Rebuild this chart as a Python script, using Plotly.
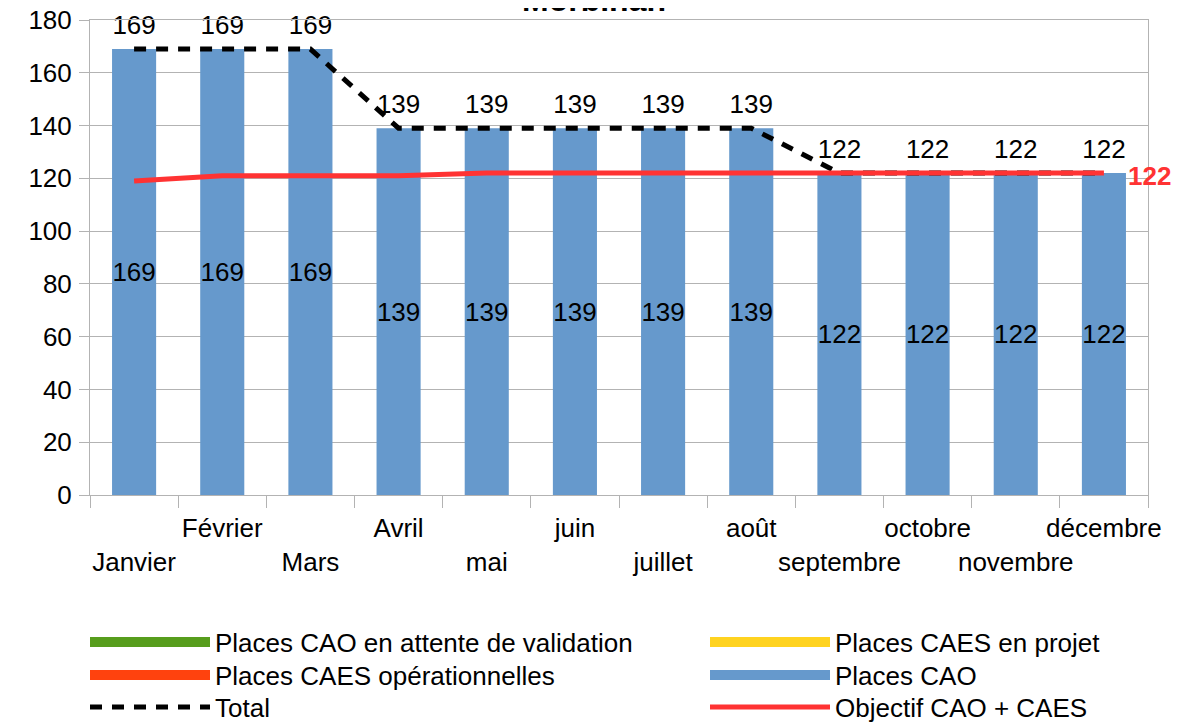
import plotly.graph_objects as go

months = ["Janvier", "Février", "Mars", "Avril", "mai", "juin", "juillet",
          "août", "septembre", "octobre", "novembre", "décembre"]
places_cao = [169, 169, 169, 139, 139, 139, 139, 139, 122, 122, 122, 122]
total = [169, 169, 169, 139, 139, 139, 139, 139, 122, 122, 122, 122]
objectif = [119, 121, 121, 121, 122, 122, 122, 122, 122, 122, 122, 122]
y_ticks = [0, 20, 40, 60, 80, 100, 120, 140, 160, 180]

# staggered month labels (every other one on a second row)
cats = [("<br>" if i % 2 == 0 else "") + m for i, m in enumerate(months)]

FONT = "Liberation Sans"
FS = 26
fig = go.Figure()

fig.add_trace(go.Bar(
    x=cats, y=places_cao, marker=dict(color="#6699cc", line=dict(width=0)),
    width=0.5, text=places_cao, textposition="inside", insidetextanchor="middle",
    textangle=0, constraintext="none",
    textfont=dict(size=FS, color="black", family=FONT),
    showlegend=False, name="Places CAO"))

# legend rows: (name, colour, legend id)
legend_only = [
    ("Places CAO en attente de validation", "#579d1c", "legend"),
    ("Places CAES en projet", "#ffd320", "legend2"),
    ("Places CAES opérationnelles", "#ff420e", "legend3"),
    ("Places CAO", "#6699cc", "legend4"),
]
for name, col, lg in legend_only:
    fig.add_trace(go.Scatter(x=cats, y=[None] * len(cats), mode="lines",
                             line=dict(color=col, width=16), name=name, legend=lg,
                             showlegend=True))

fig.add_trace(go.Scatter(
    x=cats, y=total, mode="lines+markers+text", name="Total", legend="legend5",
    line=dict(color="black", width=5, dash="12px,10px"),
    marker=dict(size=12, color="rgba(0,0,0,0)"),
    text=total, textposition="top center",
    textfont=dict(size=FS, color="black", family=FONT), cliponaxis=False))

fig.add_trace(go.Scatter(
    x=cats, y=objectif, mode="lines", name="Objectif CAO + CAES", legend="legend6",
    line=dict(color="#ff3333", width=5)))

fig.add_annotation(x=cats[-1], y=objectif[-1], text="<b>%d</b>" % objectif[-1],
                   showarrow=False, xanchor="left", xshift=22, yshift=-3,
                   font=dict(size=FS, color="#ff3333", family=FONT))

fig.add_annotation(x=0.4768, xref="paper", y=1.0, yref="paper",
                   text="<b>Morbihan</b>", showarrow=False, xanchor="center",
                   yanchor="bottom", font=dict(size=32, family=FONT, color="black"))

rows_y = [634, 667, 699]
cols_x = [77, 697]
legends = {}
for k in range(6):
    key = "legend" if k == 0 else "legend%d" % (k + 1)
    legends[key] = dict(x=cols_x[k % 2] / 1189, xref="container",
                        y=1 - rows_y[k // 2] / 722, yref="container",
                        xanchor="left", yanchor="middle", itemwidth=120,
                        font=dict(size=FS, family=FONT, color="black"),
                        bgcolor="rgba(0,0,0,0)")

fig.update_layout(
    width=1189, height=722,
    margin=dict(l=82, r=49, t=12, b=235, autoexpand=False),
    paper_bgcolor="white", plot_bgcolor="white",
    font=dict(family=FONT, size=FS, color="black"),
    bargap=0.5,
    **legends,
)

fig.update_xaxes(type="category", range=[-0.5, 11.5], ticks="outside",
                 tickson="boundaries", ticklen=12, automargin=False,
                 ticklabelstandoff=10,
                 tickcolor="#b3b3b3", showline=True, linecolor="#b3b3b3", linewidth=1,
                 mirror=True, showgrid=False, tickangle=0,
                 tickfont=dict(size=FS, family=FONT))
fig.update_yaxes(range=[0, 180], tickmode="array", tickvals=y_ticks, showgrid=True,
                 gridcolor="#b3b3b3", gridwidth=1, showline=True, linecolor="#b3b3b3",
                 linewidth=1, mirror=True, ticks="outside", ticklen=10, automargin=False,
                 ticklabelstandoff=2, ticklabeloverflow="allow",
                 tickcolor="#b3b3b3", zeroline=False, tickfont=dict(size=FS, family=FONT))

fig.write_html("out.html")
